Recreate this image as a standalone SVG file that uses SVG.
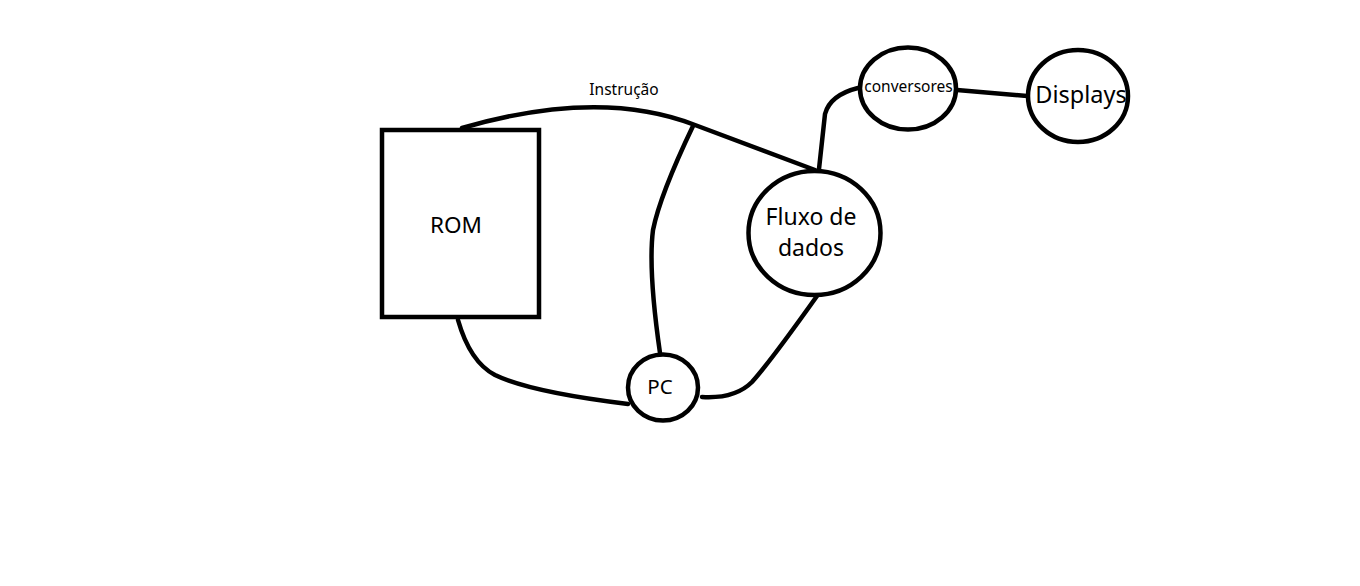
<svg xmlns="http://www.w3.org/2000/svg" width="1360" height="586" viewBox="0 0 1360 586">
<style>
.s{fill:#fff;stroke:#000;stroke-width:4.5}
.c{fill:none;stroke:#000;stroke-width:4.5;stroke-linecap:round;stroke-linejoin:round}
.t{font-family:"Noto Sans","Open Sans",sans-serif;fill:#000;text-anchor:middle}
</style>
<rect width="1360" height="586" fill="#fff"/>
<g id="connectors">
<path class="c" d="M462,128 Q600,88 695,125 L815,170"/>
<path class="c" d="M693,126 Q660,195 653,230 Q648,270 660,353"/>
<path class="c" d="M458,320 Q470,362 495,375 Q530,392 628,404"/>
<path class="c" d="M702,397 Q735,399 752,382 Q770,362 817,296"/>
<path class="c" d="M819,169 L825,114 Q830,95 858,88"/>
<path class="c" d="M957,90 L1027,96"/>
<text class="t" x="624" y="95" font-size="15.5">Instrução</text>
</g>
<g id="rom"><rect class="s" x="382" y="130" width="157" height="187"/><text class="t" x="456" y="233" font-size="22.5">ROM</text></g>
<g id="fluxo"><ellipse class="s" cx="814.5" cy="233" rx="66" ry="62"/><text class="t" x="811" y="225" font-size="23">Fluxo de</text><text class="t" x="811" y="256" font-size="23">dados</text></g>
<g id="pc"><ellipse class="s" cx="663" cy="387.5" rx="35" ry="33"/><text class="t" x="660" y="394" font-size="20.5">PC</text></g>
<g id="conversores"><ellipse class="s" cx="908" cy="88.5" rx="48" ry="41"/><text class="t" x="908.5" y="92" font-size="15.5">conversores</text></g>
<g id="displays"><ellipse class="s" cx="1078" cy="96" rx="50" ry="46"/><text class="t" x="1081" y="103" font-size="23.5">Displays</text></g>
</svg>
